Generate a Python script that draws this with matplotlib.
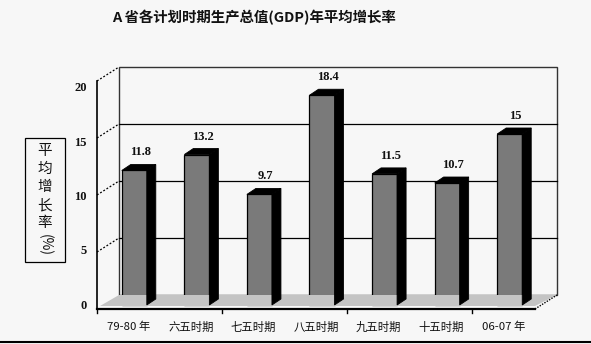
import matplotlib
matplotlib.use("Agg")
import matplotlib.pyplot as plt
import matplotlib.transforms as mtransforms
from matplotlib.patches import Rectangle, Polygon
from matplotlib.lines import Line2D

plt.rcParams['font.family'] = ['Noto Sans CJK SC', 'DejaVu Sans']

# ---- data ----
categories = ["79-80 年", "六五时期", "七五时期", "八五时期", "九五时期", "十五时期", "06-07 年"]
values = [11.8, 13.2, 9.7, 18.4, 11.5, 10.7, 15]
value_labels = ["11.8", "13.2", "9.7", "18.4", "11.5", "10.7", "15"]
yticks = [0, 5, 10, 15, 20]
title = "A 省各计划时期生产总值(GDP)年平均增长率"
ylabel_chars = ["平", "均", "增", "长", "率"]

W, H = 591, 344
fig = plt.figure(figsize=(W / 100, H / 100), dpi=100)
bg = '#f7f7f7'
fig.patch.set_facecolor(bg)

# front plane axes
ax = fig.add_axes([97 / W, (H - 309) / H, 438 / W, 228 / H])
ax.set_xlim(0, len(categories))
ax.set_ylim(0, 20)
ax.axis('off')

DX, DY = 22, 14          # wall depth (pixels)
BFX, BFY = 6, 4          # bar front shift from front plane
BDX, BDY = 9, 6          # bar depth
ident = mtransforms.IdentityTransform()


def T(x, y):
    return ax.transData.transform((x, y))


def off(dx, dy):
    return ax.transData + mtransforms.Affine2D().translate(dx, dy)


n = len(categories)

# floor
p0 = T(0, 0); p1 = T(n, 0)
floor = Polygon([(p0[0] + 3, p0[1] + 3), (p1[0], p1[1] + 3), (p1[0] + DX, p1[1] + DY),
                 (p0[0] + DX, p0[1] + DY)],
                closed=True, transform=ident, facecolor='#c4c4c4', edgecolor='none', zorder=1)
fig.add_artist(floor)
fig.add_artist(Line2D([p1[0], p1[0] + DX], [p1[1], p1[1] + DY], transform=ident,
                      color='black', lw=1, linestyle=(0, (1, 1)), zorder=2))

# back wall
ax.add_patch(Rectangle((0, 0), n, 20, transform=off(DX, DY), fill=False,
                       edgecolor='#333333', lw=1, clip_on=False, zorder=2))
for v in yticks[1:-1]:
    ax.plot([0, n], [v, v], transform=off(DX, DY), color='black', lw=0.9,
            clip_on=False, zorder=2)

# left wall dotted lines
for v in yticks[1:]:
    p = T(0, v)
    ls = (0, (1.5, 1.5))
    fig.add_artist(Line2D([p[0], p[0] + DX], [p[1], p[1] + DY], transform=ident,
                          color='black', lw=0.9, linestyle=ls, zorder=2))

# front axes lines
a0 = T(0, 0); a1 = T(0, 20); a2 = T(n, 0)
fig.add_artist(Line2D([a0[0], a1[0]], [a0[1], a1[1]], transform=ident, color='black', lw=1.2, zorder=3))
fig.add_artist(Line2D([a0[0], a2[0]], [a0[1], a2[1]], transform=ident, color='black', lw=1.6, zorder=3))
for xt in range(0, n + 1, 2):
    q = T(xt, 0)
    fig.add_artist(Line2D([q[0], q[0]], [q[1], q[1] - 4], transform=ident, color='black', lw=1, zorder=3))

# bars
for i, v in enumerate(values):
    x0 = i + 0.5 - 0.2
    x1 = i + 0.5 + 0.2
    ax.add_patch(Rectangle((x0, 0), 0.4, v, transform=off(BFX, BFY), facecolor='#7a7a7a',
                           edgecolor='black', lw=0.9, clip_on=False, zorder=5))
    A = T(x0, v) + (BFX, BFY)
    B = T(x1, v) + (BFX, BFY)
    C = T(x1, 0) + (BFX, BFY)
    top = Polygon([A, B, B + (BDX, BDY), A + (BDX, BDY)], closed=True, transform=ident,
                  facecolor='black', edgecolor='black', lw=0.6, zorder=5)
    side = Polygon([B, C, C + (BDX, BDY), B + (BDX, BDY)], closed=True, transform=ident,
                   facecolor='black', edgecolor='black', lw=0.6, zorder=5)
    fig.add_artist(top)
    fig.add_artist(side)
    ax.text(i + 0.5, v, value_labels[i], transform=off(12, 22), ha='center', va='center',
            fontsize=9, fontweight='bold', family='Liberation Serif', color='#111111',
            clip_on=False, zorder=6)

# category labels
for i, c in enumerate(categories):
    ax.text(i + 0.5, 0, c, transform=off(0, -18), ha='center', va='center',
            fontsize=8.2, color='#111111', clip_on=False)

# y tick labels (separate label scale)
axl = fig.add_axes([97 / W, (H - 306) / H, 438 / W, (306 - 88) / H])
axl.set_xlim(0, n)
axl.set_ylim(0, 20)
axl.axis('off')
for v in yticks:
    axl.text(0, v, str(v), transform=axl.transData + mtransforms.Affine2D().translate(-10, 0),
             ha='right', va='center', fontsize=9, fontweight='bold',
             family='Liberation Serif', color='#111111')

# y label box
fig.add_artist(Rectangle((25, H - 262), 40, 124, transform=ident, fill=False,
                         edgecolor='black', lw=0.9))
for k, ch in enumerate(ylabel_chars):
    fig.text(45 / W, 1 - (151 + 18 * k) / H, ch, ha='center', va='center',
             fontsize=10.5, color='#111111')
fig.text(45 / W, 1 - 245 / H, "(%)", ha='center', va='center', rotation=-90,
         fontsize=10, color='#111111')

# title
fig.text(254 / W, 1 - 18 / H, title, ha='center', va='center', fontsize=10.4,
         fontweight='bold', color='#111111')

# bottom border line
fig.add_artist(Line2D([0, W], [H - 342, H - 342], transform=ident, color='black', lw=1.5))

fig.savefig('out.png', dpi=100, facecolor=bg)
